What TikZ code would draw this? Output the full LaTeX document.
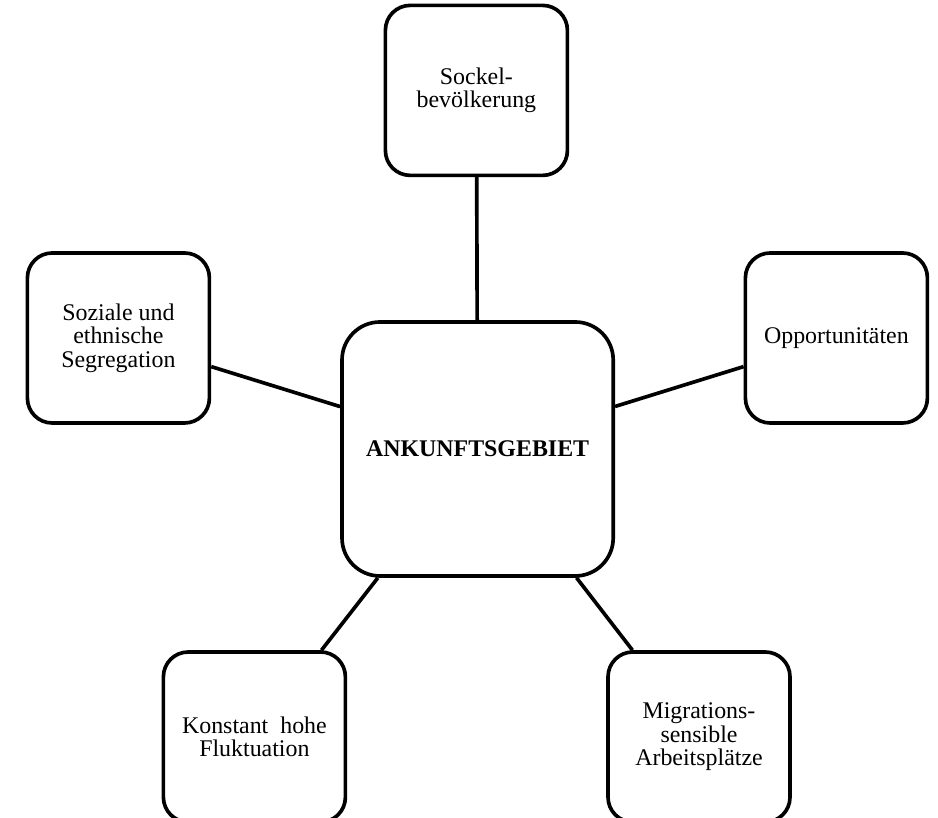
\documentclass[tikz,border=0pt]{standalone}
\usepackage{fontspec}
\setmainfont{Liberation Serif}
\usepackage{tikz}

\tikzset{
  feld/.style={draw, line width=2.6pt, rounded corners=0.62cm, inner sep=0pt,
    minimum width=4.55cm, minimum height=4.25cm, align=center,
    font=\fontsize{17}{16.8}\selectfont},
  kern/.style={feld, rounded corners=0.95cm, minimum width=6.78cm,
    minimum height=6.35cm, font=\fontsize{17}{16.8}\selectfont\bfseries},
  verb/.style={line width=2.6pt}
}

\begin{document}
\begin{tikzpicture}
\useasboundingbox (0,0) rectangle (23.45,20.45);

\node[kern] (gebiet) at (11.94,9.225) {ANKUNFTSGEBIET};

\node[feld] (sockel) at (11.91,18.19) {Sockel-\\bevölkerung};
\node[feld] (segr) at (2.96,12.0) {Soziale und\\ethnische\\Segregation};
\node[feld] (oppo) at (20.91,12.0) {Opportunitäten};
\node[feld] (fluk) at (6.36,2.025) {Konstant\ \ hohe\\Fluktuation};
\node[feld] (arbeit) at (17.475,2.025) {Migrations-\\sensible\\Arbeitsplätze};

\draw[verb] (gebiet) -- (sockel);
\draw[verb] (gebiet) -- (segr);
\draw[verb] (gebiet) -- (oppo);
\draw[verb] (gebiet) -- (fluk);
\draw[verb] (gebiet) -- (arbeit);
\end{tikzpicture}
\end{document}
